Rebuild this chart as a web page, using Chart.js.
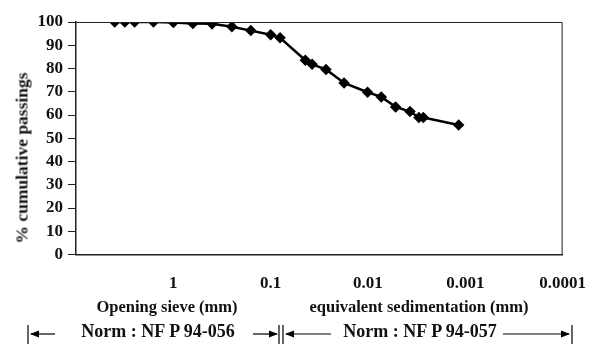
<!DOCTYPE html>
<html>
<head>
<meta charset="utf-8">
<script src="https://cdn.jsdelivr.net/npm/chart.js@4"></script>
<style>
  html, body { margin: 0; padding: 0; background: #fff; }
  #wrap { position: relative; width: 597px; height: 344px; overflow: hidden; }
  #chart { position: absolute; left: 0; top: 0; }
  .lbl {
    position: absolute;
    font-family: "Liberation Serif", "Times New Roman", serif;
    font-weight: bold;
    color: #111;
    white-space: nowrap;
    transform: translate(-50%, -50%);
  }
  .rot { transform: translate(-50%, -50%) rotate(-90deg); }
  #marks { position: absolute; left: 0; top: 0; }
</style>
</head>
<body>
<div id="wrap">
  <canvas id="chart" width="597" height="344"></canvas>
  <div class="lbl rot" style="left:22px; top:158px; font-size:17.5px;">% cumulative passings</div>
  <div class="lbl" style="left:167px; top:307px; font-size:16.5px;">Opening sieve (mm)</div>
  <div class="lbl" style="left:419px; top:307px; font-size:16.5px;">equivalent sedimentation (mm)</div>
  <div class="lbl" style="left:158px; top:331px; font-size:18px;">Norm : NF P 94-056</div>
  <div class="lbl" style="left:420px; top:331px; font-size:18px;">Norm : NF P 94-057</div>
  <svg id="marks" width="597" height="344">
    <defs>
      <marker id="ah" markerWidth="8" markerHeight="6" refX="7" refY="3" orient="auto">
        <path d="M0,0 L8,3 L0,6 z" fill="#000"/>
      </marker>
    </defs>
    <g stroke="#000" stroke-width="1.2" fill="none">
      <line x1="28" y1="325" x2="28" y2="344"/>
      <line x1="55" y1="334" x2="31" y2="334" marker-end="url(#ah)"/>
      <line x1="253" y1="334" x2="277" y2="334" marker-end="url(#ah)"/>
      <line x1="279" y1="325" x2="279" y2="344"/>
      <line x1="283" y1="325" x2="283" y2="344"/>
      <line x1="331" y1="334" x2="286" y2="334" marker-end="url(#ah)"/>
      <line x1="503" y1="334" x2="569" y2="334" marker-end="url(#ah)"/>
      <line x1="572" y1="325" x2="572" y2="344"/>
    </g>
  </svg>
</div>
<script>
// grain size (mm) and cumulative passing (%)
const sizes = [4, 3.15, 2.5, 1.6, 1.0, 0.63, 0.4, 0.25, 0.16, 0.1, 0.08,
               0.044, 0.0375, 0.027, 0.0176, 0.0101, 0.0073, 0.0052, 0.0037, 0.003, 0.0027, 0.00117];
const passing = [100, 100, 100, 100, 99.8, 99.4, 99.2, 98, 96.3, 94.5, 93.2,
                 83.6, 81.8, 79.6, 73.8, 69.8, 67.8, 63.5, 61.5, 58.9, 58.9, 55.7];
const xTicks = [1, 0.1, 0.01, 0.001, 0.0001];
const yTicks = [0, 10, 20, 30, 40, 50, 60, 70, 80, 90, 100];

const tickFont = { family: '"Liberation Serif", "Times New Roman", serif', size: 17, weight: 'bold' };

// thin frame on top and right of the plot
const frame = {
  id: 'frame',
  afterDraw(chart) {
    const a = chart.chartArea, ctx = chart.ctx;
    ctx.save();
    ctx.strokeStyle = '#222';
    ctx.lineWidth = 1;
    ctx.beginPath();
    ctx.moveTo(a.left, a.top + 0.5);
    ctx.lineTo(a.right - 0.5, a.top + 0.5);
    ctx.lineTo(a.right - 0.5, a.bottom);
    ctx.stroke();
    ctx.restore();
  }
};

const ctx = document.getElementById('chart').getContext('2d');
new Chart(ctx, {
  type: 'line',
  data: {
    datasets: [{
      data: sizes.map((s, i) => ({ x: s, y: passing[i] })),
      borderColor: '#000',
      backgroundColor: '#000',
      borderWidth: 2.5,
      pointStyle: 'rectRot',
      pointRadius: 4,
      tension: 0
    }]
  },
  options: {
    responsive: false,
    animation: false,
    layout: { padding: { top: 22, right: 2, bottom: 39, left: 0 } },
    plugins: { legend: { display: false }, tooltip: { enabled: false } },
    scales: {
      x: {
        type: 'logarithmic',
        reverse: true,
        min: 0.0001,
        max: 10,
        afterBuildTicks: axis => { axis.ticks = xTicks.map(v => ({ value: v })); },
        ticks: {
          color: '#111',
          font: tickFont,
          padding: 11,
          maxRotation: 0,
          autoSkip: false,
          callback: v => String(v)
        },
        grid: { display: false },
        border: { display: true, color: '#222', width: 1.5 }
      },
      y: {
        min: 0,
        max: 100,
        afterBuildTicks: axis => { axis.ticks = yTicks.map(v => ({ value: v })); },
        afterFit: axis => { axis.width = 76; },
        ticks: { color: '#111', font: tickFont, padding: 5, autoSkip: false },
        grid: { drawOnChartArea: false, drawTicks: true, tickLength: 8, color: '#222', tickWidth: 1 },
        border: { display: true, color: '#222', width: 1.5 }
      }
    }
  },
  plugins: [frame]
});
</script>
</body>
</html>
